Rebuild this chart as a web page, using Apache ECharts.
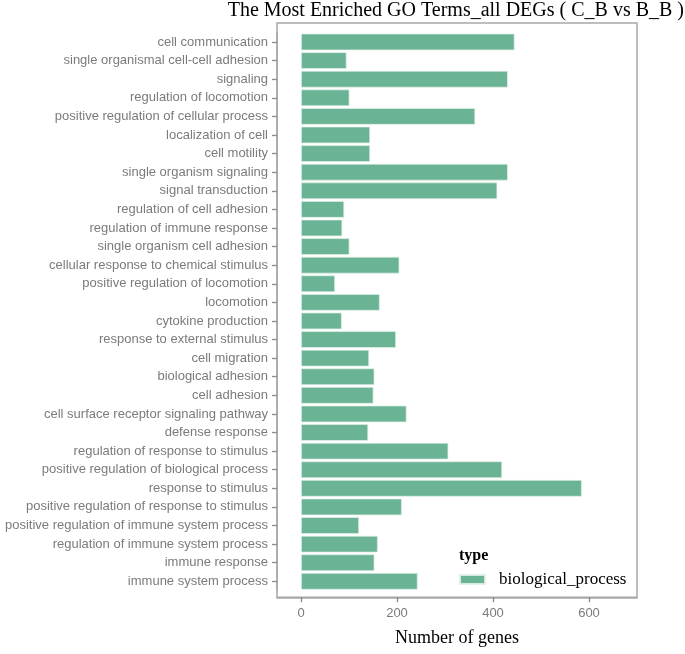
<!DOCTYPE html>
<html>
<head>
<meta charset="utf-8">
<script src="https://cdn.jsdelivr.net/npm/echarts@6/dist/echarts.min.js"></script>
<style>html,body{margin:0;padding:0;background:#fff;}#c{width:685px;height:654px;}</style>
</head>
<body>
<div id="c"></div>
<script>
const categories = [
  'cell communication','single organismal cell-cell adhesion','signaling','regulation of locomotion',
  'positive regulation of cellular process','localization of cell','cell motility','single organism signaling',
  'signal transduction','regulation of cell adhesion','regulation of immune response','single organism cell adhesion',
  'cellular response to chemical stimulus','positive regulation of locomotion','locomotion','cytokine production',
  'response to external stimulus','cell migration','biological adhesion','cell adhesion',
  'cell surface receptor signaling pathway','defense response','regulation of response to stimulus',
  'positive regulation of biological process','response to stimulus','positive regulation of response to stimulus',
  'positive regulation of immune system process','regulation of immune system process','immune response',
  'immune system process'
];
const geneCounts = [445, 95, 431, 101, 363, 144, 144, 431, 409, 90, 86, 101, 205, 71, 164, 85, 198, 142, 153, 151,
  220, 140, 307, 419, 585, 210, 121, 160, 153, 243];
const xTicks = [0, 200, 400, 600];
const seriesName = 'biological_process';

const chart = echarts.init(document.getElementById('c'), null, {renderer: 'canvas'});
const grey = '#7b7b7b';
const frame = '#a8a8a8';
chart.setOption({
  animation: false,
  backgroundColor: '#ffffff',
  title: [
    {text: 'The Most Enriched GO Terms_all DEGs ( C_B vs B_B )', right: 1, top: 1, padding: 0,
     textStyle: {fontFamily: 'Liberation Serif', fontSize: 20, fontWeight: 'normal', color: '#000'}},
    {text: 'type', left: 459, top: 548, padding: 0,
     textStyle: {fontFamily: 'Liberation Serif', fontSize: 16, fontWeight: 'bold', color: '#000'}}
  ],
  legend: {
    data: [seriesName], left: 454, top: 566, itemWidth: 25, itemHeight: 9,
    icon: 'rect',
    textStyle: {fontFamily: 'Liberation Serif', fontSize: 17, color: '#000', padding: [0, 0, 0, 9]}
  },
  grid: [
    {left: 277, right: 48, top: 32.7, bottom: 63.4},
    {left: 277, right: 48, top: 23, bottom: 56.7, show: true, borderColor: frame, borderWidth: 1.5, backgroundColor: 'transparent'}
  ],
  xAxis: [
    {gridIndex: 0, type: 'value', min: -50, max: 700, offset: 6.7, position: 'bottom',
     axisLine: {show: true, onZero: false, lineStyle: {color: frame, width: 1.5}}, splitLine: {show: false},
     axisTick: {show: true, inside: false, length: 5, lineStyle: {color: '#8c8c8c', width: 1.3}, customValues: xTicks},
     axisLabel: {color: grey, fontSize: 13, fontFamily: 'Liberation Sans', margin: 10, customValues: xTicks}},
    {gridIndex: 1, type: 'value', min: 0, max: 1,
     axisLine: {show: false}, axisTick: {show: false}, axisLabel: {show: false}, splitLine: {show: false},
     name: 'Number of genes', nameLocation: 'middle', nameGap: 32,
     nameTextStyle: {fontFamily: 'Liberation Serif', fontSize: 18, color: '#000'}}
  ],
  yAxis: [
    {gridIndex: 0, type: 'category', data: categories, inverse: true, position: 'left',
     axisLine: {show: true, onZero: false, lineStyle: {color: frame, width: 1.5}},
     axisTick: {show: true, inside: false, length: 5, alignWithLabel: true, interval: 0, lineStyle: {color: '#8c8c8c', width: 1.3}},
     axisLabel: {color: grey, fontSize: 13, fontFamily: 'Liberation Sans', margin: 9, interval: 0}},
    {gridIndex: 1, type: 'value', show: false, min: 0, max: 1}
  ],
  series: [{
    name: seriesName, type: 'bar', xAxisIndex: 0, yAxisIndex: 0, data: geneCounts,
    barWidth: '90%', silent: true,
    itemStyle: {color: '#6ab394', borderColor: 'rgba(225,240,232,0.9)', borderWidth: 0.8}
  }]
});
</script>
</body>
</html>
